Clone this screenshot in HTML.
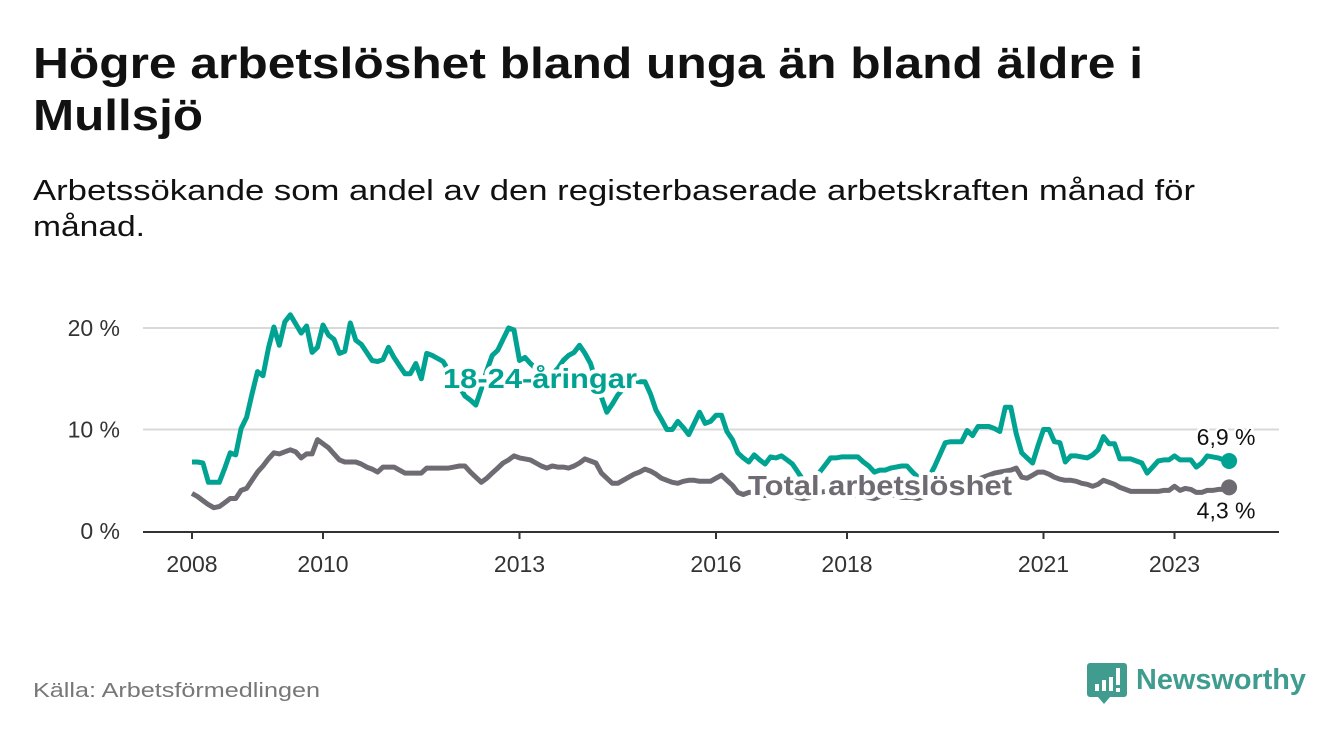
<!DOCTYPE html>
<html><head><meta charset="utf-8"><style>
html,body{margin:0;padding:0;background:#fff;}
svg{display:block;font-family:"Liberation Sans",sans-serif;}
</style></head><body>
<svg id="chart" width="1340" height="734" viewBox="0 0 1340 734" xmlns="http://www.w3.org/2000/svg">
<rect width="1340" height="734" fill="#fff"/>
<text x="33" y="78" font-size="44" font-weight="bold" fill="#111" textLength="1110" lengthAdjust="spacingAndGlyphs">Högre arbetslöshet bland unga än bland äldre i</text>
<text x="33" y="130" font-size="44" font-weight="bold" fill="#111" textLength="170" lengthAdjust="spacingAndGlyphs">Mullsjö</text>
<text x="33" y="200" font-size="29" fill="#111" textLength="1162" lengthAdjust="spacingAndGlyphs">Arbetssökande som andel av den registerbaserade arbetskraften månad för</text>
<text x="33" y="236" font-size="29" fill="#111" textLength="112" lengthAdjust="spacingAndGlyphs">månad.</text>
<g id="grid"></g>
<g id="xaxis"></g>
<g id="series"></g>
<g id="labels"></g>
<text x="33" y="697" font-size="20" fill="#777" textLength="287" lengthAdjust="spacingAndGlyphs">Källa: Arbetsförmedlingen</text>
<g>
<path d="M1090 663 h34 a3 3 0 0 1 3 3 v28 a3 3 0 0 1 -3 3 h-14 l-6 7 l-6 -7 h-8 a3 3 0 0 1 -3 -3 v-28 a3 3 0 0 1 3 -3z" fill="#3f9c8f"/>
<rect x="1095" y="684" width="4" height="7" fill="#fff"/>
<rect x="1102" y="680" width="4" height="11" fill="#fff"/>
<rect x="1109" y="677" width="4" height="14" fill="#fff"/>
<rect x="1116" y="668" width="4" height="17" fill="#fff"/>
<rect x="1116" y="688" width="4" height="4" fill="#fff"/>
<text x="1136" y="689" font-size="29" font-weight="bold" fill="#3f9c8f" textLength="170" lengthAdjust="spacingAndGlyphs">Newsworthy</text>
</g>
</svg>
<script>
const yTicks = [0, 10, 20];
const yTickLabels = ["0 %", "10 %", "20 %"];
const xTicks = [2008, 2010, 2013, 2016, 2018, 2021, 2023];
const startYear = 2008;
const youth = [
6.8,6.8,6.7,4.8,4.8,4.8,6.2,7.7,7.5,10.1,11.2,13.5,
15.7,15.3,18.0,20.1,18.3,20.6,21.3,20.4,19.5,20.2,17.6,18.1,
20.3,19.3,18.9,17.5,17.7,20.5,18.8,18.4,17.6,16.8,16.7,16.9,
18.1,17.1,16.3,15.5,15.5,16.5,15.0,17.5,17.3,17.0,16.7,15.8,
15.0,14.2,13.3,12.9,12.4,14.0,15.8,17.3,17.8,18.9,20.0,19.8,
16.8,17.1,16.5,16.0,15.8,15.3,15.5,16.0,16.8,17.3,17.6,18.3,
17.5,16.5,14.8,13.2,11.7,12.5,13.4,14.0,14.5,14.8,14.7,14.7,
13.5,11.9,11.0,10.0,10.0,10.8,10.2,9.5,10.6,11.7,10.6,10.8,
11.4,11.4,9.8,9.0,7.7,7.2,6.8,7.5,7.0,6.6,7.3,7.2,
7.4,7.0,6.6,5.8,5.0,4.8,5.2,5.8,6.5,7.2,7.2,7.3,
7.3,7.3,7.3,6.8,6.4,5.8,6.0,6.0,6.2,6.3,6.4,6.4,
5.8,5.3,5.0,5.3,6.3,7.5,8.7,8.8,8.8,8.8,9.9,9.4,
10.3,10.3,10.3,10.1,9.8,12.2,12.2,9.6,7.7,7.2,6.7,8.4,
10.0,10.0,8.8,8.7,6.8,7.4,7.4,7.3,7.2,7.5,8.0,9.3,
8.6,8.6,7.1,7.1,7.1,6.9,6.7,5.7,6.3,6.9,7.0,7.0,
7.4,7.0,7.0,7.0,6.3,6.7,7.4,7.3,7.2,7.0,6.9];
const total = [
3.7,3.4,3.0,2.6,2.3,2.4,2.8,3.2,3.2,4.0,4.2,5.0,
5.8,6.4,7.1,7.7,7.6,7.8,8.0,7.8,7.2,7.6,7.6,9.0,
8.6,8.2,7.6,7.0,6.8,6.8,6.8,6.6,6.3,6.1,5.8,6.3,
6.3,6.3,6.0,5.7,5.7,5.7,5.7,6.2,6.2,6.2,6.2,6.2,
6.3,6.4,6.4,5.8,5.3,4.8,5.2,5.7,6.2,6.7,7.0,7.4,
7.2,7.1,7.0,6.7,6.4,6.2,6.4,6.3,6.3,6.2,6.4,6.7,
7.1,6.9,6.7,5.7,5.2,4.7,4.7,5.0,5.3,5.6,5.8,6.1,
5.9,5.6,5.2,5.0,4.8,4.7,4.9,5.0,5.0,4.9,4.9,4.9,
5.2,5.5,5.0,4.5,3.8,3.6,3.8,3.8,3.6,3.5,3.8,3.9,
4.0,3.8,3.5,3.3,3.2,3.3,3.6,3.8,3.9,3.8,3.6,3.5,
3.4,3.5,3.6,3.5,3.3,3.2,3.4,3.5,3.6,3.5,3.3,3.3,
3.3,3.2,3.4,3.8,4.0,4.1,4.2,4.4,4.5,4.6,4.8,5.0,
5.1,5.3,5.5,5.7,5.8,5.9,6.0,6.2,5.3,5.2,5.5,5.8,
5.8,5.6,5.3,5.1,5.0,5.0,4.9,4.7,4.6,4.4,4.6,5.0,
4.8,4.6,4.3,4.1,3.9,3.9,3.9,3.9,3.9,3.9,4.0,4.0,
4.4,4.0,4.2,4.1,3.8,3.8,4.0,4.0,4.1,4.1,4.3];
const lastLabels = ["6,9 %", "4,3 %"];

const NS = "http://www.w3.org/2000/svg";
const X0 = 192, PXY = 65.5, Y0 = 531, PXV = 10.15;
function xs(t){ return X0 + (t - startYear) * PXY; }
function xm(i){ return xs(startYear + i / 12); }
function ys(v){ return Y0 - v * PXV; }
function mk(tag, attrs, parent){
  const e = document.createElementNS(NS, tag);
  for (const k in attrs) e.setAttribute(k, attrs[k]);
  parent.appendChild(e); return e;
}
const grid = document.getElementById('grid');
yTicks.forEach((v, i) => {
  if (v > 0) {
    const l = mk('line', {x1:143, x2:1279, y1:ys(v), y2:ys(v), stroke:'#d9d9d9', 'stroke-width':2}, grid);
    
    
  }
  const t = mk('text', {x:120, y:ys(v)+8, 'text-anchor':'end', 'font-size':23, fill:'#333'}, grid);
  t.textContent = yTickLabels[i];
  
  
});
const xa = document.getElementById('xaxis');
const base = mk('line', {x1:143, x2:1279, y1:Y0+1, y2:Y0+1, stroke:'#333', 'stroke-width':2}, xa);


xTicks.forEach(y => {
  const tk = mk('line', {x1:xs(y), x2:xs(y), y1:Y0+1, y2:Y0+8, stroke:'#333', 'stroke-width':2}, xa);
  
  
  const t = mk('text', {x:xs(y), y:572, 'text-anchor':'middle', 'font-size':23, fill:'#333'}, xa);
  t.textContent = String(y);
  
  
});
const ser = document.getElementById('series');
function drawLine(arr, color, name){
  const d = arr.map((v,i) => (i?'L':'M') + xm(i).toFixed(1) + ' ' + ys(v).toFixed(1)).join(' ');
  const p = mk('path', {d:d, fill:'none', stroke:color, 'stroke-width':5, 'stroke-linejoin':'round'}, ser);
  
  
  const n = arr.length - 1;
  const c = mk('circle', {cx:xm(n), cy:ys(arr[n]), r:8, fill:color}, ser);
  
  
}
drawLine(total, '#6e6b72', 'total-line');
drawLine(youth, '#00a392', 'youth-line');
const lab = document.getElementById('labels');
function label(txt, x, y, color, size, bold, name, anchor, len){
  const a = {x:x, y:y, fill:color, 'font-size':size, 'font-weight':bold?'bold':'normal',
    stroke:'#fff', 'stroke-width':bold?8:5, 'paint-order':'stroke', 'stroke-linejoin':'round', 'text-anchor':anchor||'start'};
  if (len) { a.textLength = len; a.lengthAdjust = 'spacingAndGlyphs'; }
  const t = mk('text', a, lab);
  t.textContent = txt;
  
  
}
label('18-24-åringar', 443, 388, '#00a392', 28, true, 'youth-series-label', 'start', 194);
label('Total arbetslöshet', 748, 495, '#6e6b72', 28, true, 'total-series-label', 'start', 264);
const nL = youth.length - 1;
label(lastLabels[0], xm(nL)-3, ys(youth[nL])-16, '#111', 23, false, 'youth-last-value', 'middle');
label(lastLabels[1], xm(nL)-3, ys(total[nL])+31, '#111', 23, false, 'total-last-value', 'middle');
</script>
</body></html>
